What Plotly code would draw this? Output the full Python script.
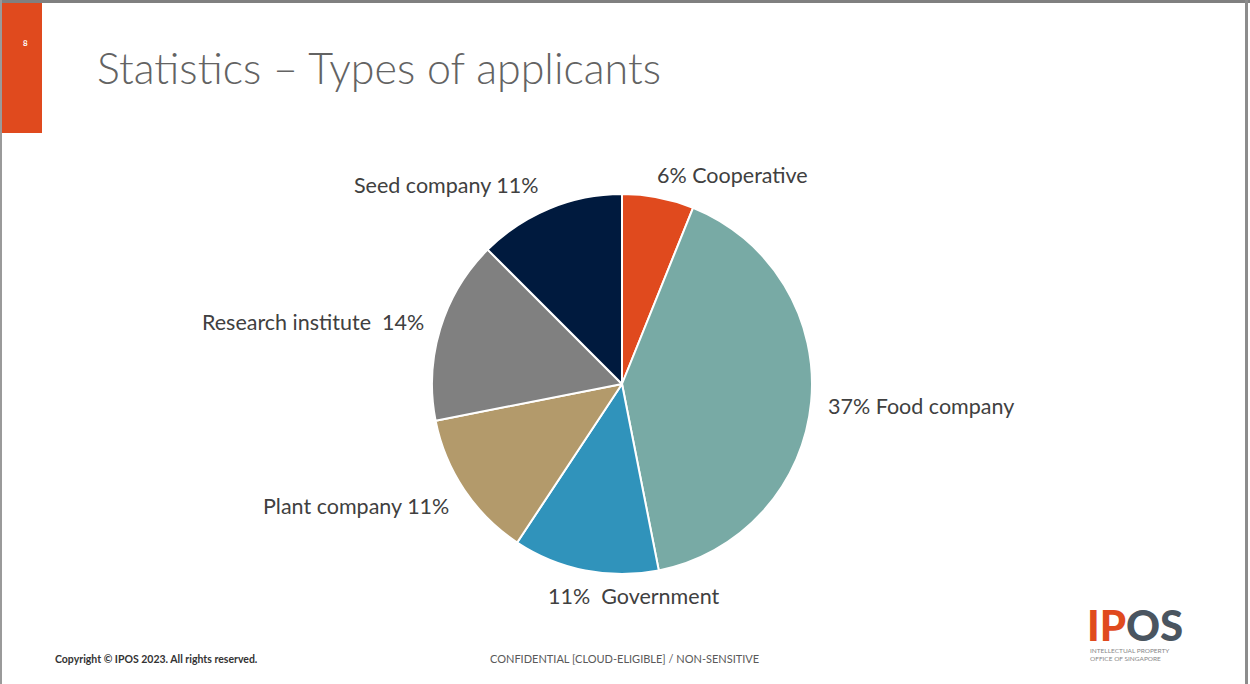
import plotly.graph_objects as go

categories = ["Cooperative", "Food company", "Government", "Plant company", "Research institute", "Seed company"]
# slice sizes (percent of the pie)
values = [6.1, 40.8, 12.4, 12.6, 15.6, 12.5]
label_texts = ["6% Cooperative", "37% Food company", "11%  Government",
               "Plant company 11%", "Research institute  14%", "Seed company 11%"]
colors = ["#E04A1E", "#78AAA5", "#3093BB", "#B39A6B", "#808080", "#001A3E"]

W, H = 1250, 684
cx, cy, r = 622, 384, 190

fig = go.Figure(go.Pie(
    labels=categories,
    values=values,
    textinfo="none",
    sort=False,
    direction="clockwise",
    rotation=0,
    marker=dict(colors=colors, line=dict(color="white", width=2)),
    domain=dict(x=[(cx - r) / W, (cx + r) / W], y=[(H - cy - r) / H, (H - cy + r) / H]),
    showlegend=False,
    hoverinfo="label+value",
))


def px(x):
    return x / W


def py(y):
    return 1 - y / H


# slice label placement (pixel anchor, horizontal anchor) for each category label
label_pos = [(732, 175, "center"), (826, 406, "left"), (633, 596, "center"),
             (451, 506, "right"), (426, 322, "right"), (541, 185, "right")]

annotations = []
for txt, (lx, ly, anc) in zip(label_texts, label_pos):
    annotations.append(dict(text=txt, x=px(lx), y=py(ly), xref="paper", yref="paper",
                            xanchor=anc, yanchor="middle", showarrow=False,
                            font=dict(family="Lato", size=21.5, color="#404040")))

annotations += [
    dict(text="<b>8</b>", x=px(21), y=py(36), xref="paper", yref="paper", showarrow=False,
         font=dict(family="Lato", size=8, color="white")),
    dict(text="Statistics – Types of applicants", x=px(95), y=py(67), xref="paper", yref="paper",
         xanchor="left", yanchor="middle", showarrow=False,
         font=dict(family="Lato", size=43, color="#636363", weight=300)),
    dict(text="<b>Copyright © IPOS 2023. All rights reserved.</b>", x=px(53), y=py(659),
         xref="paper", yref="paper", xanchor="left", yanchor="middle", showarrow=False,
         font=dict(family="Lato", size=10.5, color="#333333")),
    dict(text="CONFIDENTIAL [CLOUD-ELIGIBLE] / NON-SENSITIVE", x=px(624), y=py(658),
         xref="paper", yref="paper", xanchor="center", yanchor="middle", showarrow=False,
         font=dict(family="Lato", size=11, color="#595959")),
    dict(text="<span style='color:#E04A1E'>IP</span><span style='color:#4A5560'>OS</span>",
         x=px(1085), y=py(625), xref="paper", yref="paper", xanchor="left", yanchor="middle",
         showarrow=False, font=dict(family="Lato", size=42, color="#4A5560", weight=900)),
    dict(text="INTELLECTUAL PROPERTY<br>OFFICE OF SINGAPORE", x=px(1088), y=py(654),
         xref="paper", yref="paper", xanchor="left", yanchor="middle", align="left", showarrow=False,
         font=dict(family="Lato", size=6.5, color="#888888")),
]

shapes = [
    # red page tab
    dict(type="rect", xref="paper", yref="paper", x0=px(2), x1=px(42), y0=py(133), y1=py(2),
         line=dict(width=0), fillcolor="#E04A1E", layer="below"),
    # slide border lines (top, left, right)
    dict(type="line", xref="paper", yref="paper", x0=0, x1=1, y0=py(1.5), y1=py(1.5),
         line=dict(color="#808080", width=3)),
    dict(type="line", xref="paper", yref="paper", x0=px(1), x1=px(1), y0=0, y1=1,
         line=dict(color="#9a9a9a", width=2)),
    dict(type="line", xref="paper", yref="paper", x0=px(1246.5), x1=px(1246.5), y0=0, y1=1,
         line=dict(color="#8c8c8c", width=3)),
]

fig.update_layout(
    width=W, height=H,
    margin=dict(l=0, r=0, t=0, b=0),
    paper_bgcolor="white",
    plot_bgcolor="white",
    shapes=shapes,
    annotations=annotations,
)

fig.write_html("out.html", config={"displayModeBar": False},
               post_script="document.body.style.margin='0';document.body.style.overflow='hidden';")
